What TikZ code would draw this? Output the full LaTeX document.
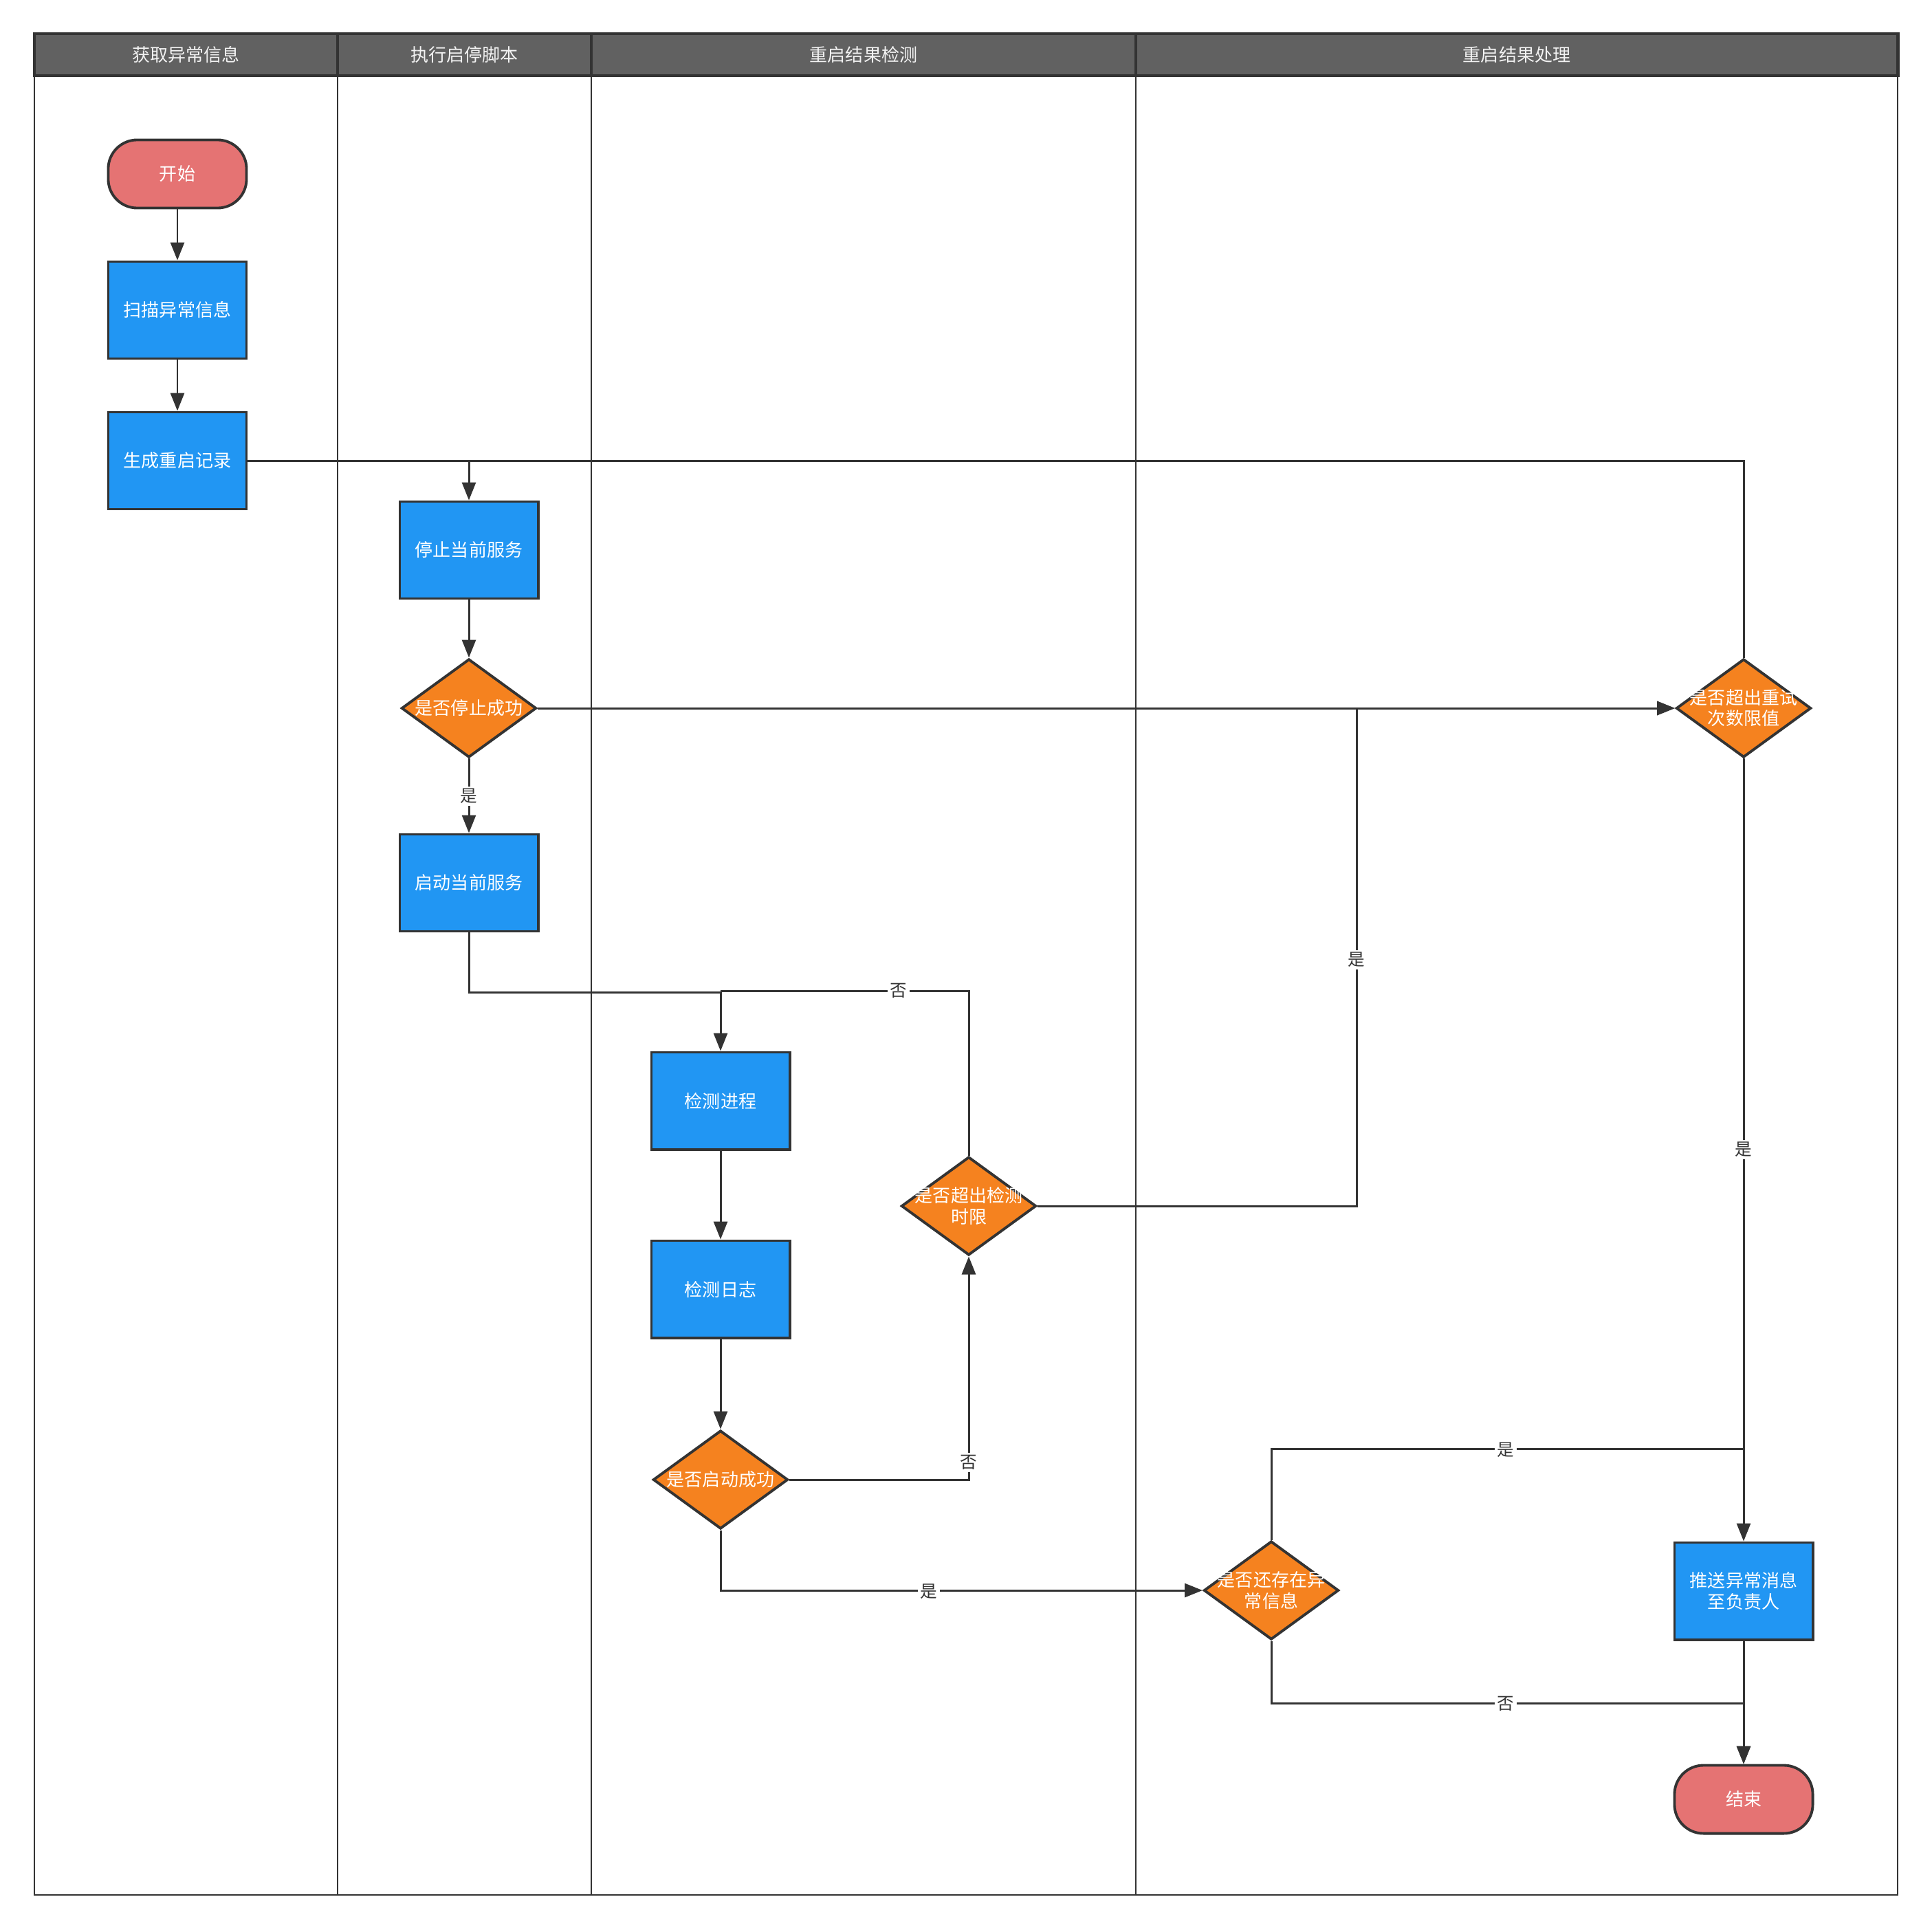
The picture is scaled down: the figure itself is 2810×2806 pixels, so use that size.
\documentclass[tikz,border=0pt]{standalone}
\usepackage{fontspec}
\setmainfont{Noto Sans CJK SC}
\usetikzlibrary{shapes.geometric,arrows.meta}
\definecolor{lc}{HTML}{333333}
\definecolor{hdr}{HTML}{616161}
\definecolor{hdrtext}{HTML}{F2F2F2}
\definecolor{blue1}{HTML}{2196F3}
\definecolor{orange1}{HTML}{F5821F}
\definecolor{red1}{HTML}{E57373}
\newcommand\nodefont{\fontsize{7.4pt}{8.6pt}\selectfont}
\newcommand\lblfont{\fontsize{7pt}{8pt}\selectfont}
\begin{document}
\begin{tikzpicture}[x=0.01cm,y=-0.01cm,
  line/.style={draw=lc, line width=0.85pt},
  arr/.style={line, -{Triangle[length=0.26cm,width=0.2cm]}},
  proc/.style={rectangle, draw=lc, line width=1.1pt, fill=blue1, text=white,
    minimum width=2.01cm, minimum height=1.41cm, inner sep=0, font=\nodefont, align=center},
  dec/.style={diamond, draw=lc, line width=1.1pt, fill=orange1,
    minimum width=1.96cm, minimum height=1.43cm, inner sep=0},
  dtext/.style={text=white, font=\nodefont, align=center, inner sep=0},
  term/.style={rectangle, draw=lc, line width=1.1pt, fill=red1, text=white, font=\nodefont,
    rounded corners=0.42cm, minimum width=2.01cm, minimum height=0.99cm, inner sep=0},
  lbl/.style={fill=white, text=lc, inner sep=1pt, font=\lblfont},
  htext/.style={text=hdrtext, font=\nodefont},
]
\useasboundingbox (0,0) rectangle (2810,2806);

% swimlane body
\draw[lc, line width=0.55pt] (50,110) -- (50,2756) -- (2760,2756) -- (2760,110);
\foreach \x in {491,860,1652} \draw[lc, line width=0.55pt] (\x,110) -- (\x,2756);

% lane headers
\fill[hdr] (50,49) rectangle (2760,110);
\draw[lc, line width=1.4pt] (50,49) rectangle (2760,110);
\foreach \x in {491,860,1652} \draw[lc, line width=1.4pt] (\x,49) -- (\x,110);
\node[htext] (h1) at (270.5,80) {获取异常信息};
\node[htext] (h2) at (675.5,80) {执行启停脚本};
\node[htext] (h3) at (1256,80) {重启结果检测};
\node[htext] (h4) at (2206,80) {重启结果处理};

% nodes
\node[term] (start) at (258,253) {开始};
\node[proc] (scan) at (258,451) {扫描异常信息};
\node[proc] (gen) at (258,670) {生成重启记录};
\node[proc] (stop) at (682,800) {停止当前服务};
\node[dec] (dstop) at (682,1030) {};
\node[dtext] at (dstop) {是否停止成功};
\node[proc] (startsvc) at (682,1284) {启动当前服务};
\node[proc] (proc) at (1048,1601) {检测进程};
\node[proc] (log) at (1048,1875) {检测日志};
\node[dec] (dok) at (1048,2152) {};
\node[dtext] at (dok) {是否启动成功};
\node[dec] (timeout) at (1409,1754) {};
\node[dtext] at (timeout) {是否超出检测\\时限};
\node[dec] (retry) at (2536,1030) {};
\node[dtext] at (retry) {是否超出重试\\次数限值};
\node[dec] (remain) at (1849,2313) {};
\node[dtext] at (remain) {是否还存在异\\常信息};
\node[proc] (push) at (2536,2314) {推送异常消息\\至负责人};
\node[term] (end) at (2536,2617) {结束};

% connectors
\draw[arr] (start) -- (scan);
\draw[arr] (scan) -- (gen);
\draw[arr] (gen.east) -| (stop.north);
\draw[line] (retry.north) |- (gen.east);
\draw[arr] (stop) -- (dstop);
\draw[arr] (dstop.east) -- (retry.west);
\draw[arr] (dstop.south) -- (startsvc.north);
\node[lbl] at (682,1158) {是};
\draw[arr] (startsvc.south) |- (700,1443) -| (proc.north);
\draw[line] (timeout.north) |- (proc.north |- 0,1441);
\node[lbl] at (1307,1441) {否};
\draw[arr] (proc) -- (log);
\draw[arr] (log) -- (dok);
\draw[arr] (dok.east) -| (timeout.south);
\node[lbl] at (1409,2127) {否};
\draw[arr] (dok.south) |- (remain.west);
\node[lbl] at (1351,2315) {是};
\draw[arr] (timeout.east) -| (1973,1030) -- (retry.west);
\node[lbl] at (1973,1396) {是};
\draw[arr] (retry.south) -- (push.north);
\node[lbl] at (2536,1672) {是};
\draw[line] (remain.north) |- (push.north |- 0,2107);
\node[lbl] at (2190,2109) {是};
\draw[arr] (remain.south) |- (2536,2477) -- (end.north);
\node[lbl] at (2190,2478) {否};
\draw[arr] (push) -- (end);
\end{tikzpicture}
\end{document}
